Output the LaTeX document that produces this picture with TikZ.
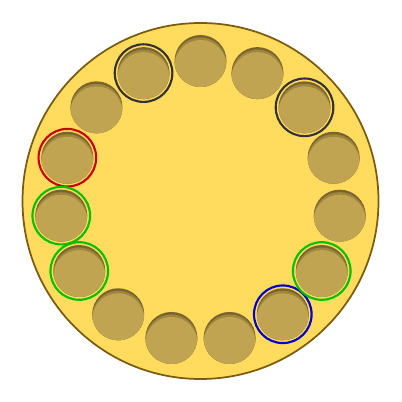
\documentclass[tikz,border=0pt]{standalone}
\definecolor{plate}{HTML}{FFDB5E}
\definecolor{rim}{HTML}{7B5B0D}
\definecolor{hole}{HTML}{C1A452}
\definecolor{holemid}{HTML}{9E863E}
\definecolor{holedark}{HTML}{7A642C}
\definecolor{ringblack}{HTML}{333333}
\definecolor{ringred}{HTML}{CC0000}
\definecolor{ringgreen}{HTML}{00C000}
\definecolor{ringblue}{HTML}{0000CC}
\tikzset{
  platestyle/.style={draw=rim, fill=plate, line width=1.3pt},
  ringstyle/.style={line width=1.6pt}
}
\begin{document}
\begin{tikzpicture}[x=0.75pt,y=-0.75pt]
\useasboundingbox (0,0) rectangle (402,402);
\fill[white] (0,0) rectangle (402,402);
\draw[platestyle] (200.5,201) circle[radius=178];
\foreach \k/\col in {0/none,1/ringblack,2/none,3/ringred,4/ringgreen,5/ringgreen,6/none,7/none,8/none,9/ringblue,10/ringgreen,11/none,12/none,13/ringblack,14/none} {
  \pgfmathsetmacro\a{90+24*\k}
  \pgfmathsetmacro\px{200.5+140*cos(\a)}
  \pgfmathsetmacro\py{201-140*sin(\a)}
  \coordinate (c\k) at (\px,\py);
  \fill[holedark] (c\k) circle[radius=26];
  \begin{scope}
    \clip (c\k) circle[radius=26];
    \fill[holemid] (\px,\py+2.5) circle[radius=26];
    \fill[hole] (\px,\py+5) circle[radius=26];
  \end{scope}
  \draw[ringstyle, draw=\col] (c\k) circle[radius=28.8];
}
\end{tikzpicture}
\end{document}
